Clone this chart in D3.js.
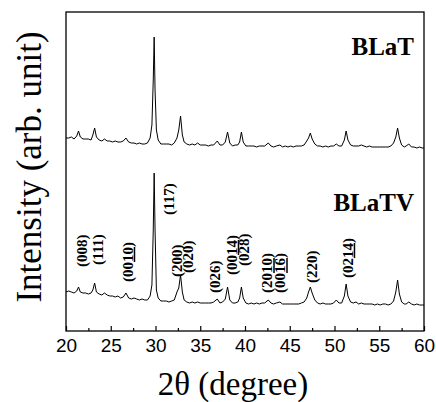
<!DOCTYPE html>
<html lang="en">
<head>
<meta charset="UTF-8">
<title>XRD BLaT / BLaTV</title>
<style>
    body { margin: 0; padding: 0; background: #fff; }
    svg { display: block; }
    .curve { fill: none; stroke: #000; stroke-width: 1; stroke-linejoin: round; }
    .frame { fill: none; stroke: #000; stroke-width: 1.3; }
    .tick-label { font-family: "Liberation Sans", Arial, sans-serif; font-size: 19px; fill: #000; }
    .title { font-family: "Liberation Serif", "Times New Roman", serif; fill: #000; }
    .sample { font-family: "Liberation Serif", "Times New Roman", serif; font-weight: bold; font-size: 25px; }
    .hkl { font-family: "Liberation Serif", "Times New Roman", serif; font-weight: bold; font-size: 15px; }
</style>
</head>
<body>
<svg id="chart" width="436" height="402"></svg>
<script src="https://d3js.org/d3.v7.min.js"></script>
<script>
// 2theta sample positions (degree), shared by both patterns
var angles = [
    20.0, 20.3, 20.6, 20.9, 21.2, 21.4, 21.6, 21.9, 22.2, 22.5, 22.8, 23.0, 23.2, 23.4, 23.7,
    24.0, 24.3, 24.6, 24.9, 25.2, 25.5, 25.8, 26.1, 26.4, 26.7, 27.0, 27.3, 27.6, 27.9, 28.2,
    28.5, 28.8, 29.1, 29.4, 29.6, 29.75, 29.85, 29.95, 30.1, 30.3, 30.6, 30.9, 31.2, 31.5, 31.8,
    32.1, 32.4, 32.6, 32.8, 33.0, 33.2, 33.5, 33.8, 34.1, 34.4, 34.7, 35.0, 35.3, 35.6, 35.9,
    36.2, 36.5, 36.9, 37.2, 37.5, 37.8, 38.05, 38.3, 38.6, 38.9, 39.2, 39.4, 39.6, 39.8, 40.1,
    40.4, 40.7, 41.0, 41.3, 41.6, 41.9, 42.2, 42.6, 42.9, 43.2, 43.5, 43.9, 44.2, 44.5, 44.8,
    45.1, 45.4, 45.7, 46.0, 46.3, 46.6, 46.9, 47.1, 47.3, 47.5, 47.8, 48.1, 48.4, 48.7, 49.0,
    49.3, 49.6, 49.9, 50.2, 50.5, 50.8, 51.1, 51.3, 51.5, 51.8, 52.1, 52.4, 52.7, 53.0, 53.3,
    53.6, 53.9, 54.2, 54.5, 54.8, 55.1, 55.4, 55.7, 56.0, 56.3, 56.6, 56.85, 57.05, 57.25, 57.5,
    57.8, 58.0, 58.3, 58.6, 58.9, 59.2, 59.5, 59.8, 60.0
];

// intensity (arb. unit) of BLaTV, lower pattern
var blatv = [
    39, 40, 39, 38, 40, 44, 39, 38, 38, 37, 38, 41, 48, 39, 37,
    36, 38, 36, 35, 35, 34, 35, 33, 34, 38, 33, 32, 33, 32, 31,
    32, 31, 31, 35, 46, 101, 158, 101, 41, 33, 30, 30, 30, 29, 30,
    31, 39, 43, 56, 39, 31, 29, 28, 29, 28, 29, 28, 28, 28, 28,
    28, 29, 32, 28, 29, 32, 44, 31, 28, 28, 29, 33, 44, 33, 28,
    27, 28, 27, 28, 27, 28, 28, 31, 28, 27, 28, 29, 27, 27, 27,
    27, 27, 27, 27, 28, 29, 33, 39, 44, 38, 31, 28, 27, 28, 27,
    27, 27, 28, 31, 28, 28, 35, 47, 35, 29, 28, 29, 27, 28, 27,
    27, 27, 27, 26, 27, 26, 27, 27, 26, 27, 30, 39, 51, 37, 29,
    27, 27, 29, 27, 26, 27, 26, 26, 26
];

// intensity (arb. unit) of BLaT, upper pattern
var blat = [
    33, 33, 34, 32, 35, 40, 34, 32, 32, 32, 31, 36, 43, 34, 31,
    30, 32, 30, 30, 29, 30, 29, 29, 30, 33, 29, 28, 28, 27, 28,
    27, 27, 28, 33, 46, 91, 134, 81, 41, 31, 27, 27, 27, 27, 26,
    28, 33, 41, 55, 36, 29, 27, 26, 27, 26, 28, 26, 26, 26, 25,
    26, 26, 30, 26, 26, 29, 39, 28, 25, 26, 26, 29, 39, 29, 25,
    25, 25, 25, 24, 25, 25, 25, 28, 25, 24, 25, 26, 24, 25, 24,
    25, 24, 25, 25, 25, 26, 30, 33, 38, 32, 27, 25, 25, 24, 25,
    24, 25, 25, 27, 25, 25, 31, 40, 31, 26, 25, 25, 25, 26, 25,
    24, 25, 24, 24, 24, 24, 24, 24, 24, 25, 28, 34, 43, 33, 26,
    24, 25, 27, 24, 24, 23, 24, 23, 23
];
var blatOffset = 160;

// reflection labels: [text, 2theta, height]; [..] marks the underlined part
var hklLabels = [
    ["(008)", 21.79, 64],
    ["(111)", 23.52, 66],
    ["(00[10])", 26.87, 49],
    ["(117)", 31.45, 116],
    ["(200)", 32.40, 54],
    ["(020)", 33.58, 58],
    ["(026)", 36.65, 38],
    ["(00[14])", 38.49, 56],
    ["(028)", 39.89, 65],
    ["(20[10])", 42.46, 38],
    ["(00[16])", 43.91, 38],
    ["(220)", 47.49, 48],
    ["(02[14])", 51.45, 53]
];

var xTicks = [20, 25, 30, 35, 40, 45, 50, 55, 60];
var xMinorTicks = [22.5, 27.5, 32.5, 37.5, 42.5, 47.5, 52.5, 57.5];

var svg = d3.select("#chart");
var plotLeft = 66, plotRight = 424, plotTop = 12, plotBottom = 331;

var x = d3.scaleLinear().domain([20, 60]).range([plotLeft, plotRight]);
var y = d3.scaleLinear().domain([0, 319]).range([plotBottom, plotTop]);

var line = d3.line()
    .x(function (d) { return x(d[0]); })
    .y(function (d) { return y(d[1]); });

svg.append("path")
    .attr("class", "curve")
    .attr("d", line(angles.map(function (a, i) { return [a, blat[i] + blatOffset]; })));

svg.append("path")
    .attr("class", "curve")
    .attr("d", line(angles.map(function (a, i) { return [a, blatv[i]]; })));

// bottom axis, ticks pointing inward
var axis = svg.append("g")
    .attr("transform", "translate(0," + plotBottom + ")")
    .call(d3.axisBottom(x).tickValues(xTicks).tickSizeInner(-5).tickSizeOuter(0));
axis.select(".domain").remove();
axis.selectAll("text").attr("class", "tick-label").attr("dy", null).attr("y", 21);
axis.selectAll("line").attr("stroke-width", 1.2);

var minor = svg.append("g")
    .attr("transform", "translate(0," + plotBottom + ")")
    .call(d3.axisBottom(x).tickValues(xMinorTicks).tickSizeInner(-3).tickSizeOuter(0).tickFormat(""));
minor.select(".domain").remove();
minor.selectAll("line").attr("stroke-width", 1.2);

svg.append("rect")
    .attr("class", "frame")
    .attr("x", plotLeft).attr("y", plotTop)
    .attr("width", plotRight - plotLeft).attr("height", plotBottom - plotTop);

// reflection labels
hklLabels.forEach(function (d) {
    var t = svg.append("text")
        .attr("class", "hkl")
        .attr("transform", "translate(" + x(d[1]) + "," + y(d[2]) + ") rotate(-90)")
        .attr("dy", "0.35em");
    d[0].split(/(\[[^\]]*\])/).forEach(function (part) {
        if (!part) return;
        if (part.charAt(0) === "[") {
            t.append("tspan").style("text-decoration", "underline").text(part.slice(1, -1));
        } else {
            t.append("tspan").text(part);
        }
    });
});

svg.append("text").attr("class", "sample")
    .attr("x", 414).attr("y", 55).attr("text-anchor", "end").text("BLaT");
svg.append("text").attr("class", "sample")
    .attr("x", 414).attr("y", 211).attr("text-anchor", "end").text("BLaTV");

svg.append("text").attr("class", "title")
    .attr("x", 233).attr("y", 395)
    .attr("text-anchor", "middle")
    .style("font-size", "33px")
    .text("2θ (degree)");

svg.append("text").attr("class", "title")
    .attr("transform", "translate(41,167) rotate(-90)")
    .attr("text-anchor", "middle")
    .style("font-size", "35px")
    .text("Intensity (arb. unit)");
</script>
</body>
</html>
